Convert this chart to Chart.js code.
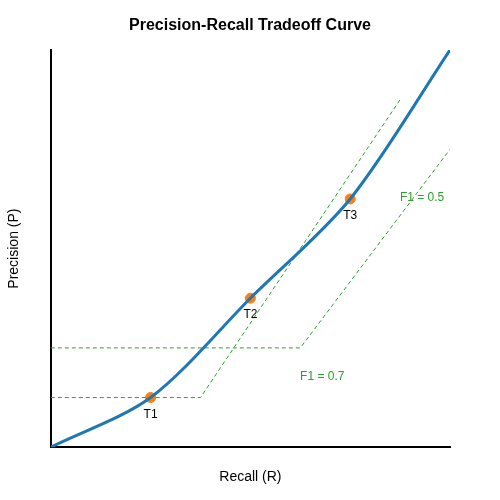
<!DOCTYPE html><html><head><script src="https://cdn.jsdelivr.net/npm/chart.js@4"></script></head><body style="margin:0"><div style="width:500px;height:500px"><canvas id="c"></canvas></div><script>
const curveX=[0,0.25,0.5,0.75,1];
const curveY=[0,0.125,0.375,0.625,1];
const ptX=[0.25,0.5,0.75], ptY=[0.125,0.375,0.625], ptLabels=['T1','T2','T3'];
const f1aX=[0,0.375,0.875], f1aY=[0.125,0.125,0.875];
const f1bX=[0,0.625,1], f1bY=[0.25,0.25,0.75];
const z=(a,b)=>a.map((v,i)=>({x:v,y:b[i]}));
const labels={id:'lab',afterDatasetsDraw(ch){const {ctx,scales:{x,y}}=ch;ctx.save();ctx.font='12px "Liberation Sans", Arial';ctx.textAlign='center';ctx.fillStyle='#000';
ptX.forEach((v,i)=>ctx.fillText(ptLabels[i],x.getPixelForValue(v),y.getPixelForValue(ptY[i])+20));
ctx.fillStyle='#2ca02c';ctx.fillText('F1 = 0.5',x.getPixelForValue(0.93),y.getPixelForValue(0.62));ctx.fillText('F1 = 0.7',x.getPixelForValue(0.68),y.getPixelForValue(0.17));
ctx.fillStyle='#000';ctx.font='bold 16px "Liberation Sans", Arial';ctx.fillText('Precision-Recall Tradeoff Curve',250,30);ctx.restore();}};
new Chart(document.getElementById('c'),{type:'scatter',data:{datasets:[
{data:z(curveX,curveY),showLine:true,borderColor:'#1f77b4',borderWidth:3,pointRadius:0,tension:0.3},
{data:z(f1aX,f1aY),showLine:true,borderColor:'#2ca02c',borderWidth:1,borderDash:[4,3],pointRadius:0},
{data:z(f1bX,f1bY),showLine:true,borderColor:'#2ca02c',borderWidth:1,borderDash:[4,3],pointRadius:0},
{data:z(ptX,ptY),backgroundColor:'#ff7f0e',borderColor:'#ff7f0e',pointRadius:5}
]},plugins:[labels],options:{animation:false,responsive:true,maintainAspectRatio:false,
layout:{padding:{top:50,right:50,left:2,bottom:10}},
plugins:{legend:{display:false},tooltip:{enabled:false}},
scales:{x:{min:0,max:1,ticks:{display:false},grid:{display:false},border:{color:'#000',width:2},title:{display:true,text:'Recall (R)',color:'#000',font:{size:14,family:'"Liberation Sans", Arial'},padding:{top:14}}},
y:{min:0,max:1,ticks:{display:false},grid:{display:false},border:{color:'#000',width:2},title:{display:true,text:'Precision (P)',color:'#000',font:{size:14,family:'"Liberation Sans", Arial'},padding:{bottom:20}}}}}});
</script></body></html>
